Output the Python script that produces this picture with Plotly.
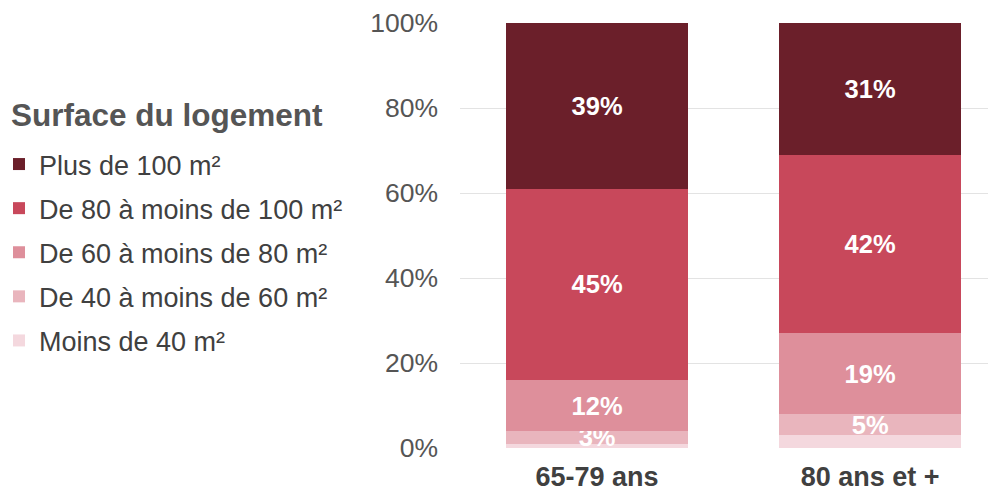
import plotly.graph_objects as go

categories = ["65-79 ans", "80 ans et +"]
series_names = ["Moins de 40 m²", "De 40 à moins de 60 m²", "De 60 à moins de 80 m²",
                "De 80 à moins de 100 m²", "Plus de 100 m²"]
moins_40 = [1, 3]
de_40_60 = [3, 5]
de_60_80 = [12, 19]
de_80_100 = [45, 42]
plus_100 = [39, 31]
series_values = [moins_40, de_40_60, de_60_80, de_80_100, plus_100]
show_labels = [False, True, True, True, True]
legend_ranks = [5, 4, 3, 2, 1]
colors = ["#f4d8de", "#e9b5bd", "#de8f9b", "#c8485b", "#6b1f2a"]
y_ticks = [0, 20, 40, 60, 80, 100]
y_tick_labels = ["0%", "20%", "40%", "60%", "80%", "100%"]
legend_title = "Surface du logement"

FONT = "Liberation Sans, Arial, sans-serif"

# page has an 8px body margin: figure drawn from (8, 8)
PLOT_L, PLOT_T, PLOT_B, PLOT_W, PLOT_H = 460, 23, 448, 536, 425

fig = go.Figure()
for name, vals, col, lab, rk in zip(series_names, series_values, colors, show_labels, legend_ranks):
    fig.add_trace(go.Bar(
        x=categories, y=vals, name=name, marker_color=col, marker_line_width=0,
        text=[f"{v}%" for v in vals] if lab else None,
        textposition="inside", insidetextanchor="middle",
        textfont=dict(family=FONT, size=25.5, color="white", weight="bold"),
        width=0.667, legendgroup=name, legendrank=rk, cliponaxis=False, hoverinfo="skip",
    ))

fig.add_annotation(
    text=f"<b>{legend_title}</b>", xref="paper", yref="paper",
    x=(9 - PLOT_L) / PLOT_W, y=(PLOT_B - 115) / PLOT_H, xanchor="left", yanchor="middle",
    showarrow=False, font=dict(family=FONT, size=31.5, color="#555555"),
)

fig.update_layout(
    width=988, height=484,
    barmode="stack",
    plot_bgcolor="white", paper_bgcolor="white",
    margin=dict(l=452, r=0, t=15, b=44, autoexpand=False),
    font=dict(family=FONT, color="#555555"),
    uniformtext=dict(minsize=25.5, mode="show"),
    xaxis=dict(range=[-0.502, 1.461], showgrid=False, showline=False, zeroline=False,
               automargin=False,
               tickfont=dict(size=27, color="#404040", weight="bold"), ticklabelstandoff=10),
    yaxis=dict(range=[0, 100], tickvals=y_ticks, ticktext=y_tick_labels,
               showgrid=True, gridcolor="#e3e3e3", gridwidth=1, zeroline=False,
               automargin=False,
               showline=False, tickfont=dict(size=26.5, color="#555555"), ticklabelstandoff=21),
    legend=dict(
        xref="paper", yref="paper", x=(-1 - PLOT_L) / PLOT_W, y=(PLOT_B - 140) / PLOT_H,
        xanchor="left", yanchor="top",
        traceorder="grouped", tracegroupgap=6,
        font=dict(family=FONT, size=27, color="#404040"),
        itemwidth=30, bgcolor="rgba(0,0,0,0)",
    ),
)

fig.write_html("out.html")
